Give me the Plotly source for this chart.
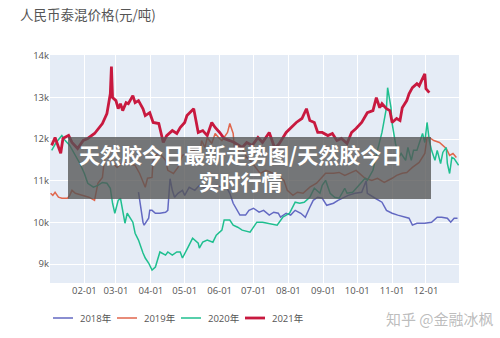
import plotly.graph_objects as go

YEAR = "2021"

d2018 = ["03-21","03-22","03-25","03-26","03-30","03-31","04-02","04-05","04-09","04-14","04-16","04-18","04-20","04-22","04-25","04-29","05-01","05-05","05-10","05-14","05-19","05-21","05-25","05-29","06-03","06-07","06-10","06-13","06-17","06-19","06-24","06-27","07-01","07-06","07-10","07-15","07-19","07-23","07-25","07-30","08-03","08-07","08-12","08-16","08-20","08-23","08-27","08-31","09-04","09-10","09-14","09-19","09-23","09-29","10-05","10-09","10-10","10-17","10-23","10-27","11-01","11-06","11-12","11-16","11-19","11-23","11-30","12-06","12-11","12-15","12-20","12-23","12-26","12-29"]
v2018 = [10725,10530,10005,9935,10100,10290,10290,10220,10220,10245,10290,11050,10770,10605,10700,10770,10650,10845,10770,10890,10820,10845,10770,10890,10845,10845,10700,10460,10290,10175,10175,10290,10340,10245,10290,10175,10245,10220,10125,10220,10175,10290,10220,10125,10365,10530,10605,10580,10410,10460,10530,10605,10650,10700,10725,11000,10700,10580,10485,10290,10220,10175,10125,10100,9935,9980,9980,10005,10125,10125,10100,10005,10100,10100]

d2019 = ["01-02","01-04","01-06","01-09","01-12","01-17","01-19","01-21","01-24","01-30","02-05","02-10","02-13","02-17","02-19","02-21","02-24","03-02","03-07","03-11","03-18","03-22","03-27","03-29","04-02","04-03","04-07","04-09","04-14","04-16","04-21","04-25","04-29","05-03","05-09","05-14","05-16","05-19","05-21","05-25","05-28","05-31","06-03","06-08","06-10","06-13","06-14","06-17","06-21","06-25","06-28","07-03","07-07","07-12","07-16","07-23","07-28","07-31","08-05","08-09","08-14","08-20","08-26","08-30","09-03","09-10","09-15","09-20","09-26","09-30","10-08","10-14","10-19","10-25","11-01","11-05","11-10","11-14","11-19","11-25","11-30","12-02","12-04","12-08","12-13","12-16","12-19","12-22","12-25","12-28"]
v2019 = [10700,10650,10725,10605,10580,10580,10650,10770,10700,10650,10605,10530,10940,11080,11560,11610,11490,11320,11440,11415,11370,11175,10845,11060,11080,11490,11655,11655,11490,11250,11175,11320,11610,11655,11730,11560,11965,11800,12040,11895,12135,12040,11965,12160,12375,12135,11800,11730,11775,11560,11490,11320,11175,11250,11200,11130,11010,10770,10650,10725,10700,10845,10940,11060,11180,11180,11200,11130,11200,11250,11060,11010,11060,10960,11060,11130,11180,11200,11320,11440,11655,12040,12040,11965,11920,11850,11775,11610,11655,11560]

d2020 = ["01-03","01-07","01-12","01-15","01-19","01-24","01-28","02-01","02-04","02-09","02-13","02-17","02-21","02-24","02-26","02-28","03-03","03-05","03-07","03-09","03-11","03-13","03-16","03-18","03-21","03-25","03-27","03-30","04-02","04-05","04-08","04-09","04-14","04-16","04-20","04-24","04-27","04-29","05-04","05-08","05-13","05-14","05-17","05-21","05-26","05-29","06-03","06-05","06-10","06-13","06-17","06-21","06-28","07-04","07-09","07-15","07-22","07-27","08-02","08-07","08-11","08-15","08-20","08-24","08-29","08-31","09-03","09-07","09-11","09-15","09-20","09-22","09-27","10-01","10-08","10-10","10-15","10-19","10-23","10-27","10-28","10-31","11-01","11-04","11-07","11-09","11-13","11-15","11-18","11-20","11-23","11-25","11-28","11-30","12-02","12-04","12-06","12-09","12-11","12-14","12-16","12-19","12-20","12-22","12-24","12-26","12-30"]
v2020 = [11730,11920,12085,11965,11850,11610,11415,11175,10940,10845,10890,10960,10940,10820,10460,10220,10530,10580,10290,9980,10220,10125,10005,9740,9575,9265,9145,9025,8855,8930,9170,9290,9215,9290,9215,9290,9290,9145,9405,9620,9500,9385,9525,9575,9525,9695,9815,10055,10055,9935,9885,9815,9765,10005,10005,9980,9935,10125,10220,10485,10460,10485,10605,10820,10700,10890,11010,10700,10605,10580,10820,10700,10725,10845,11060,11010,11250,11730,12160,12755,13235,12755,12375,11895,11560,11655,11490,11800,11490,11730,11730,11895,12135,11920,12400,11965,11730,11490,11730,11415,11680,11800,11415,11175,11560,11535,11370]

d2021 = ["01-03","01-06","01-11","01-13","01-18","01-21","01-26","01-31","02-04","02-10","02-17","02-21","02-24","02-25","02-26","03-01","03-03","03-05","03-07","03-10","03-12","03-16","03-18","03-21","03-25","03-27","03-31","04-03","04-08","04-12","04-15","04-20","04-24","04-27","05-01","05-03","05-09","05-13","05-17","05-21","05-25","05-28","06-01","06-05","06-10","06-14","06-21","06-25","06-30","07-05","07-09","07-15","07-20","07-24","07-30","08-04","08-08","08-13","08-17","08-20","08-24","08-27","08-31","09-05","09-09","09-13","09-17","09-22","09-26","09-30","10-05","10-10","10-15","10-18","10-21","10-23","10-27","10-30","11-01","11-05","11-08","11-10","11-14","11-16","11-19","11-23","11-25","11-27","11-30","12-01","12-04"]
v2021 = [11850,12040,11660,12015,12090,11920,11775,11970,12015,12135,12375,12615,13090,13740,12995,12925,12730,12850,12685,12875,12850,13045,12875,12925,12730,12565,12635,12400,12375,11920,12085,12205,12135,12280,12400,12565,12730,12160,12205,12085,12400,12280,12160,12015,11965,11920,11800,11920,11850,12040,11920,12160,11775,11895,12160,12280,12400,12495,12730,12445,12400,12160,12160,12085,12135,11965,12015,11895,12160,12255,12400,12635,12685,12995,12755,12850,12730,12685,12400,12495,12445,12755,12925,13090,13235,13330,13280,13400,13570,13210,13115]

series = [
    ("2018年", d2018, v2018, "#6369c2", 1.5),
    ("2019年", d2019, v2019, "#e0664c", 1.5),
    ("2020年", d2020, v2020, "#1fbf8f", 1.5),
    ("2021年", d2021, v2021, "#c8193f", 2.8),
]

fig = go.Figure()
for name, d, v, c, w in series:
    fig.add_trace(go.Scatter(
        x=[f"{YEAR}-{s}" for s in d], y=v, name=name, mode="lines",
        line=dict(color=c, width=w), showlegend=False,
    ))

month_ticks = [f"{YEAR}-{m:02d}-01" for m in range(2, 13)]

# plot area geometry (pixels) used to place overlay items in paper coordinates
PL, PR, PT, PB = 50, 459, 55, 283
def px(x):
    return (x - PL) / (PR - PL)
def py(y):
    return (PB - y) / (PB - PT)

fig.update_layout(
    width=500, height=338,
    margin=dict(l=PL, r=500 - PR, t=PT, b=338 - PB, autoexpand=False),
    template="plotly",
    font=dict(family="Open Sans, Noto Sans CJK SC", size=9.5, color="#555"),
    title=dict(text="人民币泰混价格(元/吨)", x=0.04, xanchor="left", y=0.955, yanchor="middle",
               font=dict(size=13.5, color="#555", family="Noto Sans CJK SC")),
    xaxis=dict(range=[f"{YEAR}-01-01 12:00", f"{YEAR}-12-30 08:00"],
               tickvals=month_ticks, tickformat="%m-%d", showgrid=True),
    yaxis=dict(range=[8545, 14020], dtick=1000, tickformat="~s"),
    showlegend=False,
)

# custom horizontal legend
LEG_Y = 318
for i, (name, d, v, c, w) in enumerate(series):
    x0 = 53 + 64 * i
    fig.add_shape(type="line", xref="paper", yref="paper",
                  x0=px(x0), x1=px(x0 + 20), y0=py(LEG_Y), y1=py(LEG_Y),
                  line=dict(color=c, width=w))
    fig.add_annotation(xref="paper", yref="paper", x=px(x0 + 25), y=py(LEG_Y),
                       text=name, showarrow=False, xanchor="left", yanchor="middle",
                       font=dict(size=9.5, color="#555", family="Open Sans, Noto Sans CJK SC"))

fig.add_shape(type="rect", xref="paper", yref="paper",
              x0=px(68), x1=px(431), y0=py(199), y1=py(137),
              fillcolor="rgba(85,85,85,0.78)", line=dict(width=0), layer="above")
fig.add_annotation(xref="paper", yref="paper", x=px(240), y=py(167),
                   text="<b>天然胶今日最新走势图/天然胶今日<br>实时行情</b>", showarrow=False,
                   align="center", xanchor="center", yanchor="middle",
                   font=dict(size=21, color="white", family="Noto Sans CJK SC"))
fig.add_annotation(xref="paper", yref="paper", x=px(440), y=py(318),
                   text="知乎 @金融冰枫", showarrow=False, xanchor="center", yanchor="middle",
                   font=dict(size=15, color="rgba(160,160,160,0.7)", family="Noto Sans CJK SC"))

fig.write_html("out.html")
